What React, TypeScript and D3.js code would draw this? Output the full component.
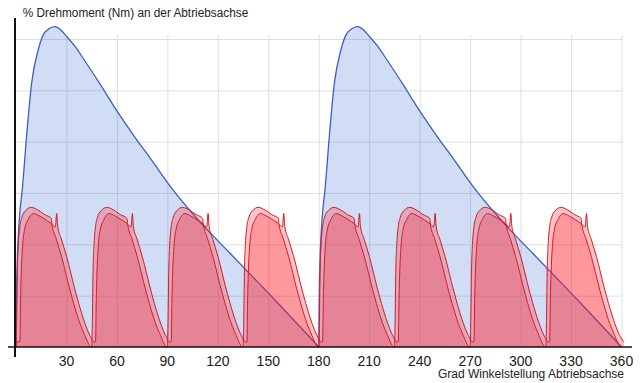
import React from 'react';
import * as d3 from 'd3';

// ---- data ----
const xTicks = [30, 60, 90, 120, 150, 180, 210, 240, 270, 300, 330, 360];
const gridLevels = [1, 2, 3, 4, 5, 6];

// blue torque curve (one half-turn), angle in degrees -> relative torque (grid units)
const blueStarts = [0, 180];
const blueAngles = [0, 0.3, 0.8, 1.5, 2.5, 3.7, 6.4, 9.3, 13.2, 16.2, 19.2, 23.2, 26.5, 30.1, 35, 40, 50, 60, 70, 80, 93.3, 109.3, 127.1, 153.8, 180];
const blueValues = [0, 1.0, 1.75, 2.25, 2.7, 3.06, 4.15, 5.14, 5.79, 6.08, 6.19, 6.24, 6.18, 6.05, 5.86, 5.62, 5.12, 4.6, 4.12, 3.67, 3.06, 2.44, 1.83, 0.92, 0];

// red pulses
const pulseStarts = [0, 45, 90, 135, 180, 225, 270, 315];
const pulseAT = [0, 0.4, 0.8, 1.4, 2.3, 3.5, 5.5, 9, 13, 17, 21.1, 21.3, 24, 27.1, 32.1, 38, 41, 43.5, 44.5];
const pulseAV = [0, 0.5, 1.45, 2.0, 2.35, 2.53, 2.65, 2.72, 2.67, 2.58, 2.5, 2.41, 2.1, 1.76, 1.11, 0.46, 0.22, 0.04, 0];
const pulseBT = [2.3, 2.7, 3.2, 4.0, 5.2, 7.2, 10.3, 14, 18, 21.2, 23.4, 24.2, 24.8, 27, 30.1, 35.1, 41, 44, 46.5];
const pulseBV = [0.1, 0.9, 1.5, 2.0, 2.3, 2.48, 2.6, 2.55, 2.47, 2.4, 2.34, 2.6, 2.35, 2.1, 1.76, 1.11, 0.46, 0.22, 0.1];
const bFloor = 0.1;

const title = '% Drehmoment (Nm) an der Abtriebsachse';
const xTitle = 'Grad Winkelstellung Abtriebsachse';

const W = 643;
const H = 383;
const FONT = '"Liberation Sans", Arial, Helvetica, sans-serif';

export default function App() {
  const x = d3.scaleLinear().domain([0, 360]).range([16, 621.5]);
  const y = d3.scaleLinear().domain([0, 6]).range([347, 39]);

  type P = [number, number];
  const area = d3
    .area<P>()
    .x((d) => x(d[0]))
    .y0(y(0))
    .y1((d) => y(d[1]))
    .curve(d3.curveMonotoneX);
  const line = d3
    .line<P>()
    .x((d) => x(d[0]))
    .y((d) => y(d[1]))
    .curve(d3.curveMonotoneX);

  const bluePeriods: P[][] = blueStarts.map((s) =>
    blueAngles.map((a, i) => [s + a, blueValues[i]] as P)
  );

  const seriesA: P[] = [];
  pulseStarts.forEach((s) => {
    pulseAT.forEach((t, i) => seriesA.push([s + t, pulseAV[i]]));
  });
  const seriesB: P[] = [[0, bFloor]];
  pulseStarts.forEach((s) => {
    pulseBT.forEach((t, i) => seriesB.push([s + t, pulseBV[i]]));
  });

  const redFill = 'rgba(255,20,30,0.25)';
  const redStroke = '#e3141e';

  return (
    <svg
      width={W}
      height={H}
      style={{ position: 'absolute', left: 0, top: 0, background: '#fff' }}
    >
      <rect x={0} y={0} width={W} height={H} fill="#fff" />
      {/* grid */}
      <g stroke="#dedede" strokeWidth={1}>
        {gridLevels.map((g) => (
          <line key={'h' + g} x1={13} x2={622} y1={y(g) + 0.5} y2={y(g) + 0.5} />
        ))}
        {xTicks.map((t) => (
          <line key={'v' + t} x1={x(t) + 0.5} x2={x(t) + 0.5} y1={35} y2={347} />
        ))}
      </g>

      {/* blue torque */}
      {bluePeriods.map((p, i) => (
        <g key={'b' + i}>
          <path d={area(p) || ''} fill="rgba(70,120,210,0.25)" stroke="none" />
          <path d={line(p) || ''} fill="none" stroke="#3b5fc4" strokeWidth={1.3} />
        </g>
      ))}

      {/* red pulses */}
      <path d={area(seriesA) || ''} fill={redFill} stroke="none" />
      <path d={line(seriesA) || ''} fill="none" stroke={redStroke} strokeWidth={1} />
      <path d={area(seriesB) || ''} fill={redFill} stroke="none" />
      <path d={line(seriesB) || ''} fill="none" stroke={redStroke} strokeWidth={1} />

      {/* axes */}
      <line x1={8} x2={632} y1={347} y2={347} stroke="#111" strokeWidth={1.6} />
      <line x1={15} x2={15} y1={18} y2={357} stroke="#111" strokeWidth={2} />

      {/* tick labels */}
      <g fontFamily={FONT} fontSize={14} fill="#222" textAnchor="middle">
        {xTicks.map((t) => (
          <text key={'t' + t} x={x(t)} y={365.5}>
            {t}
          </text>
        ))}
      </g>

      <text
        x={22.7}
        y={17}
        fontFamily={FONT}
        fontSize={12.5}
        fill="#222"
        textLength={225.5}
        lengthAdjust="spacingAndGlyphs"
      >
        {title}
      </text>
      <text
        x={624}
        y={378}
        fontFamily={FONT}
        fontSize={12}
        fill="#222"
        textAnchor="end"
      >
        {xTitle}
      </text>
    </svg>
  );
}
